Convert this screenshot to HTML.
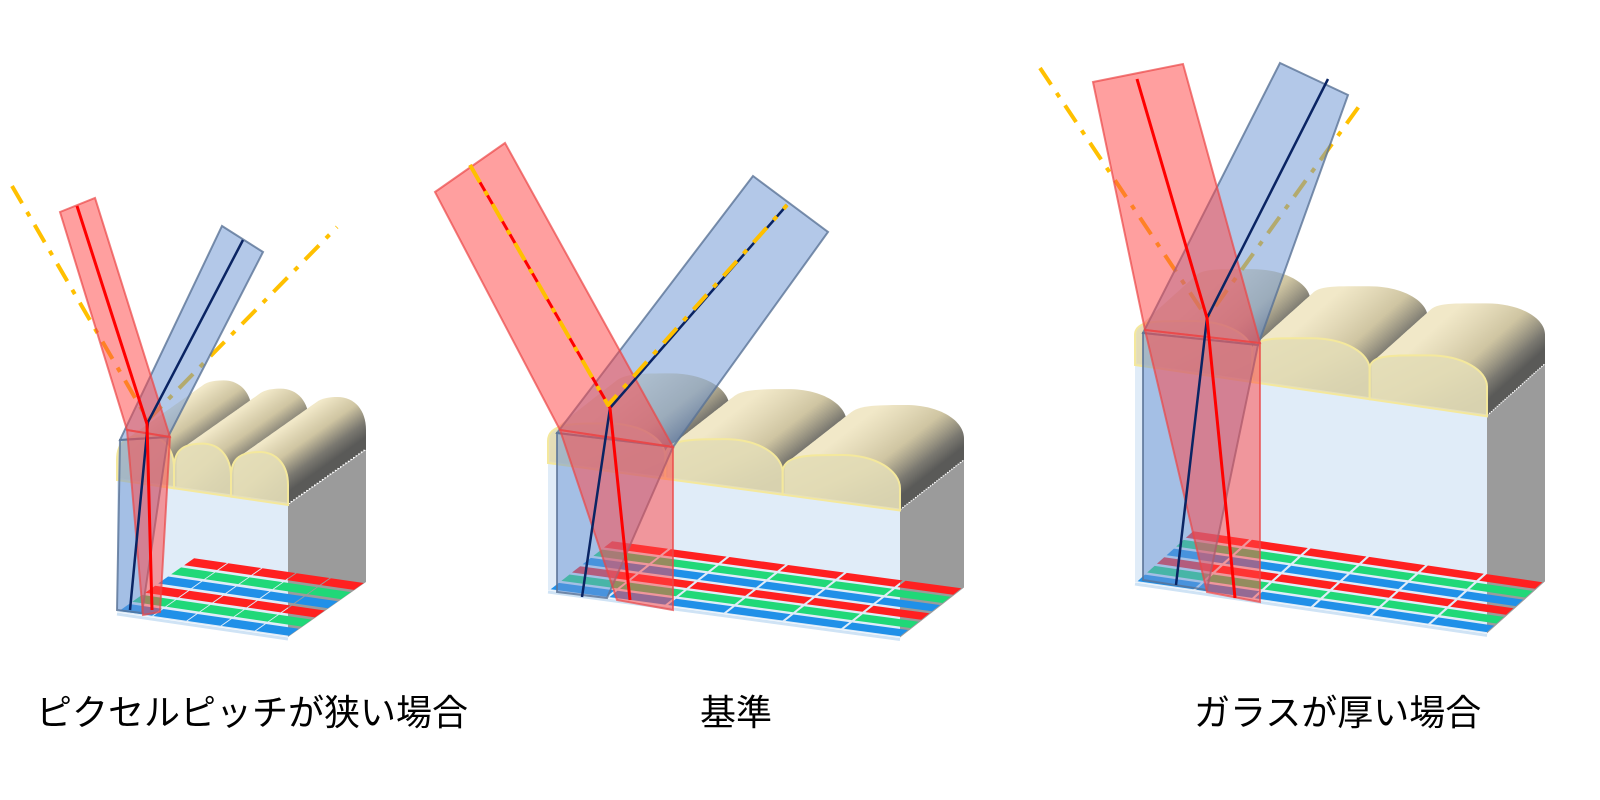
<!DOCTYPE html>
<html><head><meta charset="utf-8"><style>
html,body{margin:0;padding:0;background:#fff;width:1600px;height:800px;overflow:hidden}
svg{display:block}
.lbl{font-family:"Liberation Sans","Noto Sans CJK JP",sans-serif;font-size:36px;fill:#000}
</style></head><body>
<svg id="s" width="1600" height="800" viewBox="0 0 1600 800" xmlns="http://www.w3.org/2000/svg">
<defs>
<linearGradient id="lg" x1="0.3" y1="0" x2="1" y2="0.75">
<stop offset="0" stop-color="#f1e8c8"/><stop offset="0.45" stop-color="#cfc5a2"/><stop offset="0.8" stop-color="#7a7870"/><stop offset="1" stop-color="#5a5a58"/>
</linearGradient>
</defs>
<g id="blocks"></g>
<g id="beams"></g>
<text class="lbl" x="36" y="725">ピクセルピッチが狭い場合</text>
<text class="lbl" x="700" y="725">基準</text>
<text class="lbl" x="1194" y="725">ガラスが厚い場合</text>
</svg>
<script>
const NS="http://www.w3.org/2000/svg";
function el(p,t,a){const e=document.createElementNS(NS,t);for(const k in a)e.setAttribute(k,a[k]);p.appendChild(e);return e;}
const B=document.getElementById('blocks'),M=document.getElementById('beams');
function pts(a){return a.map(p=>p[0].toFixed(1)+','+p[1].toFixed(1)).join(' ');}
function block(o){
 const {x0,yb,w,sl,h,dx,dy,side,rise,cols}=o;
 const P=(u,v,z)=>[x0+u*w+v*dx, yb+u*w*sl+v*dy - (z||0)];
 const g=el(B,'g',{});
 el(g,'polygon',{points:pts([P(1,0,0),P(1,0,h),P(1,1,h),P(1,1,0)]),fill:'#9b9b9b'});
 const lw=w/3;
 function lensPath(i,tx,ty){
  const a=[x0+i*lw+tx, yb+i*lw*sl-h+ty], b=[x0+(i+1)*lw+tx, yb+(i+1)*lw*sl-h+ty];
  const a2=[a[0],a[1]-side], b2=[b[0],b[1]-side];
  const cx=(a[0]+b[0])/2, cy=(a2[1]+b2[1])/2-rise*1.6;
  return `M${a[0]},${a[1]} L${a2[0]},${a2[1]} C${a2[0]},${a2[1]-rise*1.1} ${a2[0]+lw*0.2},${cy} ${cx},${cy} C${b2[0]-lw*0.2},${cy} ${b2[0]},${b2[1]-rise*1.1} ${b2[0]},${b2[1]} L${b[0]},${b[1]} Z`;
 }
 const N=30;
 for(let k=N;k>=1;k--){const t=k/N;
  for(let i=0;i<3;i++) el(g,'path',{d:lensPath(i,t*dx,t*dy),fill:'url(#lg)'});
 }
 el(g,'polygon',{points:pts([P(0,0,0),P(1,0,0),P(1,0,h),P(0,0,h)]),fill:'#e0ecf8'});
 const rc=['#ff2020','#20d878','#2090e8','#ff2020','#20d878','#2090e8'];
 for(let r=0;r<6;r++){
  const v0=1-(r+1)/6+0.02, v1=1-r/6-0.02;
  for(let c=0;c<cols;c++){
   const u0=c/cols+0.004,u1=(c+1)/cols-0.004;
   el(g,'polygon',{points:pts([P(u0,v0),P(u1,v0),P(u1,v1),P(u0,v1)]),fill:rc[r]});
  }
 }
 el(g,'line',{x1:P(0,0)[0],y1:P(0,0)[1]+2,x2:P(1,0)[0],y2:P(1,0)[1]+2,stroke:'#cfe3f5','stroke-width':3});
 for(let i=0;i<3;i++) el(g,'path',{d:lensPath(i,0,0),fill:'#e3dcb6','fill-opacity':0.92,stroke:'#f4e89c','stroke-width':2});
}
block({x0:117,yb:612,w:171,sl:0.146,h:132,dx:78,dy:-55,side:20,rise:18,cols:5});
block({x0:548,yb:590,w:352,sl:0.135,h:127,dx:64,dy:-50,side:22,rise:16,cols:6});
block({x0:1135,yb:582,w:352,sl:0.146,h:217,dx:58,dy:-52,side:30,rise:14,cols:6});

const RF='rgba(255,70,70,0.52)',RS='rgba(235,70,70,0.7)',BF='rgba(110,150,210,0.52)',BS='rgba(90,115,150,0.8)';
function poly(p,f,s){el(M,'polygon',{points:pts(p),fill:f,stroke:s,'stroke-width':2});}
function line(p,c,w,da){const a={points:pts(p),fill:'none',stroke:c,'stroke-width':w,'stroke-linejoin':'round'};if(da)a['stroke-dasharray']=da;el(M,'polyline',a);}
const Y='#ffc000',DA='20 10 5 10';
line([[12,186],[148,420],[337,227]],Y,4,DA);
poly([[222,226],[263,252],[168,437],[120,440]],BF,BS);
poly([[120,440],[168,437],[142,613],[117,610]],BF,BS);
poly([[60,212],[95,198],[170,437],[127,430]],RF,RS);
poly([[127,430],[170,437],[160,612],[143,615]],RF,RS);
line([[243,240],[148,422],[130,610]],'#0a2463',2.5);
line([[77,206],[147,424],[152,610]],'#ff0000',3);
poly([[753,176],[828,232],[673,447],[557,433]],BF,BS);
poly([[557,433],[673,447],[607,598],[557,592]],BF,BS);
poly([[435,192],[505,143],[673,447],[560,430]],RF,RS);
poly([[560,430],[673,447],[673,610],[617,600]],RF,RS);
line([[787,205],[610,408],[582,597]],'#0a2463',2.5);
line([[470,165],[610,408],[630,600]],'#ff0000',3);
line([[470,165],[608,405],[787,205]],Y,4,DA);
line([[1040,68],[1207,318],[1360,105]],Y,4,DA);
poly([[1280,63],[1348,95],[1258,345],[1143,333]],BF,BS);
poly([[1143,333],[1258,345],[1207,590],[1143,580]],BF,BS);
poly([[1093,82],[1183,64],[1260,343],[1145,330]],RF,RS);
poly([[1145,330],[1260,343],[1260,602],[1207,592]],RF,RS);
line([[1328,79],[1207,318],[1176,585]],'#0a2463',2.5);
line([[1137,79],[1207,318],[1235,598]],'#ff0000',3);
</script>
</body></html>
